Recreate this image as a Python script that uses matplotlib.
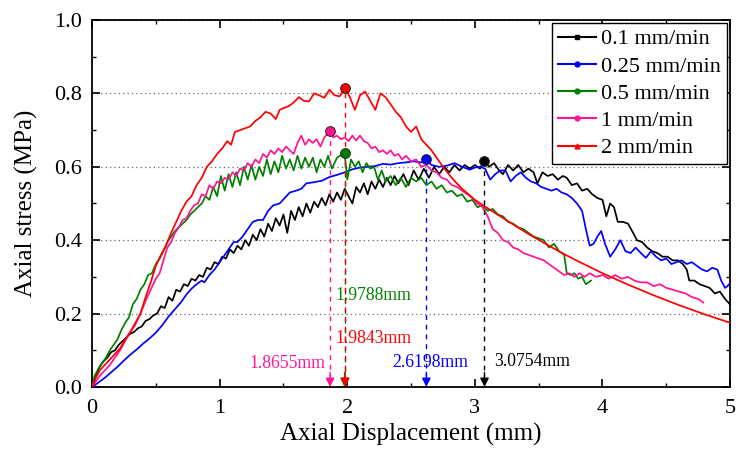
import matplotlib
matplotlib.use("Agg")
import matplotlib.pyplot as plt
from matplotlib.lines import Line2D

plt.rcParams["font.family"] = ["Liberation Serif", "DejaVu Serif"]
plt.rcParams["mathtext.fontset"] = "stix"

# ---- data: axial displacement (mm) vs axial stress (MPa) for each loading rate ----
x_01 = [0, 0.03, 0.06, 0.09, 0.12, 0.15, 0.18, 0.21, 0.24, 0.27, 0.30, 0.33, 0.36, 0.39, 0.42, 0.45,
        0.48, 0.51, 0.54, 0.57, 0.60, 0.63, 0.66, 0.69, 0.72, 0.75, 0.78, 0.81, 0.84, 0.87, 0.90, 0.93,
        0.96, 0.99, 1.02, 1.05, 1.08, 1.11, 1.14, 1.17, 1.20, 1.23, 1.26, 1.29, 1.32, 1.35, 1.38, 1.41,
        1.44, 1.47, 1.50, 1.53, 1.56, 1.59, 1.62, 1.65, 1.68, 1.71, 1.74, 1.77, 1.80, 1.83, 1.86, 1.89,
        1.92, 1.95, 1.98, 2.01, 2.04, 2.07, 2.10, 2.13, 2.16, 2.19, 2.22, 2.25, 2.28, 2.31, 2.34, 2.37,
        2.40, 2.44, 2.48, 2.52, 2.56, 2.60, 2.64, 2.68, 2.72, 2.76, 2.80, 2.84, 2.88, 2.92, 2.96, 3.00,
        3.04, 3.0754, 3.11, 3.15, 3.19, 3.22, 3.26, 3.30, 3.34, 3.38, 3.42, 3.46, 3.49, 3.53, 3.57, 3.61,
        3.65, 3.69, 3.72, 3.76, 3.80, 3.84, 3.88, 3.92, 3.96, 4.00, 4.03, 4.06, 4.09, 4.12, 4.16, 4.20,
        4.24, 4.27, 4.31, 4.35, 4.39, 4.43, 4.47, 4.51, 4.55, 4.59, 4.63, 4.66, 4.68, 4.72, 4.76, 4.80,
        4.84, 4.88, 4.92, 4.96, 5.00]
y_01 = [0, 0.030, 0.055, 0.070, 0.080, 0.095, 0.100, 0.115, 0.125, 0.135, 0.145, 0.150, 0.160, 0.165, 0.180, 0.185,
        0.195, 0.200, 0.220, 0.215, 0.245, 0.235, 0.265, 0.260, 0.280, 0.275, 0.295, 0.290, 0.305, 0.300, 0.325, 0.320,
        0.340, 0.335, 0.355, 0.350, 0.375, 0.365, 0.385, 0.375, 0.400, 0.385, 0.415, 0.400, 0.430, 0.410, 0.445, 0.425,
        0.460, 0.440, 0.470, 0.420, 0.480, 0.455, 0.490, 0.465, 0.500, 0.475, 0.505, 0.490, 0.515, 0.495, 0.525, 0.505,
        0.530, 0.510, 0.540, 0.520, 0.500, 0.545, 0.530, 0.555, 0.525, 0.560, 0.540, 0.565, 0.545, 0.570, 0.550, 0.575,
        0.555, 0.580, 0.550, 0.590, 0.565, 0.595, 0.570, 0.600, 0.580, 0.600, 0.585, 0.605, 0.590, 0.605, 0.595, 0.605,
        0.595, 0.616, 0.600, 0.610, 0.590, 0.580, 0.605, 0.590, 0.605, 0.585, 0.595, 0.585, 0.555, 0.585, 0.575, 0.580,
        0.565, 0.575, 0.570, 0.550, 0.555, 0.535, 0.540, 0.525, 0.515, 0.510, 0.465, 0.500, 0.490, 0.450, 0.450, 0.445,
        0.420, 0.400, 0.395, 0.380, 0.370, 0.365, 0.355, 0.355, 0.345, 0.345, 0.335, 0.320, 0.290, 0.290, 0.280, 0.275,
        0.270, 0.255, 0.260, 0.240, 0.225]

x_025 = [0, 0.05, 0.10, 0.15, 0.20, 0.25, 0.30, 0.35, 0.40, 0.45, 0.50, 0.55, 0.60, 0.65, 0.70, 0.74,
         0.78, 0.82, 0.86, 0.88, 0.92, 0.96, 1.00, 1.04, 1.08, 1.11, 1.14, 1.18, 1.22, 1.26, 1.30, 1.34,
         1.38, 1.42, 1.47, 1.51, 1.55, 1.60, 1.64, 1.68, 1.74, 1.80, 1.86, 1.92, 1.98, 2.04, 2.10, 2.16,
         2.22, 2.28, 2.34, 2.40, 2.46, 2.52, 2.58, 2.6198, 2.66, 2.72, 2.78, 2.84, 2.90, 2.96, 3.00, 3.04,
         3.08, 3.12, 3.16, 3.20, 3.24, 3.28, 3.32, 3.36, 3.40, 3.44, 3.48, 3.52, 3.56, 3.60, 3.64, 3.68,
         3.72, 3.76, 3.80, 3.84, 3.87, 3.90, 3.93, 3.96, 3.99, 4.02, 4.06, 4.10, 4.14, 4.18, 4.22, 4.26,
         4.30, 4.34, 4.38, 4.42, 4.46, 4.50, 4.54, 4.58, 4.62, 4.66, 4.70, 4.74, 4.78, 4.82, 4.86, 4.90,
         4.93, 4.96, 4.98, 5.00]
y_025 = [0, 0.012, 0.025, 0.040, 0.055, 0.072, 0.088, 0.102, 0.118, 0.132, 0.148, 0.168, 0.192, 0.212, 0.232, 0.252,
         0.268, 0.280, 0.290, 0.285, 0.305, 0.320, 0.340, 0.360, 0.380, 0.395, 0.395, 0.410, 0.430, 0.450, 0.455, 0.455,
         0.480, 0.495, 0.500, 0.515, 0.530, 0.535, 0.540, 0.555, 0.558, 0.562, 0.572, 0.578, 0.585, 0.593, 0.598, 0.600,
         0.602, 0.608, 0.606, 0.610, 0.612, 0.615, 0.612, 0.620, 0.605, 0.600, 0.603, 0.610, 0.600, 0.592, 0.598, 0.600,
         0.595, 0.565, 0.580, 0.590, 0.590, 0.560, 0.575, 0.585, 0.570, 0.560, 0.555, 0.545, 0.540, 0.535, 0.540, 0.530,
         0.525, 0.515, 0.500, 0.480, 0.430, 0.385, 0.390, 0.410, 0.425, 0.390, 0.355, 0.375, 0.400, 0.370, 0.365, 0.380,
         0.365, 0.352, 0.370, 0.355, 0.345, 0.350, 0.335, 0.340, 0.345, 0.335, 0.340, 0.330, 0.320, 0.315, 0.325, 0.320,
         0.290, 0.270, 0.275, 0.283]

x_05 = [0, 0.02, 0.05, 0.08, 0.11, 0.14, 0.17, 0.20, 0.23, 0.26, 0.29, 0.32, 0.35, 0.38, 0.41, 0.44,
        0.47, 0.50, 0.53, 0.56, 0.59, 0.62, 0.65, 0.68, 0.71, 0.74, 0.77, 0.80, 0.83, 0.86, 0.89, 0.92,
        0.95, 0.98, 1.01, 1.04, 1.07, 1.10, 1.13, 1.16, 1.19, 1.22, 1.25, 1.28, 1.31, 1.34, 1.37, 1.40,
        1.43, 1.46, 1.49, 1.52, 1.55, 1.58, 1.61, 1.64, 1.67, 1.70, 1.73, 1.76, 1.79, 1.82, 1.85, 1.88,
        1.92, 1.9788, 2.00, 2.03, 2.06, 2.09, 2.12, 2.15, 2.18, 2.21, 2.24, 2.27, 2.30, 2.34, 2.38, 2.42,
        2.46, 2.50, 2.54, 2.58, 2.62, 2.66, 2.70, 2.74, 2.78, 2.82, 2.86, 2.90, 2.94, 2.98, 3.02, 3.06,
        3.10, 3.14, 3.18, 3.22, 3.26, 3.30, 3.34, 3.38, 3.42, 3.46, 3.50, 3.54, 3.58, 3.62, 3.66, 3.70,
        3.72, 3.75, 3.78, 3.81, 3.84, 3.87, 3.91]
y_05 = [0, 0.030, 0.050, 0.065, 0.080, 0.100, 0.115, 0.130, 0.155, 0.175, 0.190, 0.225, 0.240, 0.265, 0.280, 0.305,
        0.310, 0.335, 0.350, 0.370, 0.395, 0.410, 0.425, 0.435, 0.445, 0.455, 0.470, 0.480, 0.490, 0.500, 0.520, 0.510,
        0.545, 0.520, 0.575, 0.535, 0.580, 0.545, 0.585, 0.550, 0.600, 0.565, 0.605, 0.565, 0.600, 0.575, 0.620, 0.580,
        0.615, 0.585, 0.630, 0.595, 0.620, 0.590, 0.630, 0.595, 0.625, 0.600, 0.625, 0.585, 0.620, 0.600, 0.630, 0.595,
        0.625, 0.638, 0.565, 0.620, 0.600, 0.615, 0.585, 0.610, 0.595, 0.600, 0.565, 0.590, 0.560, 0.575, 0.550, 0.570,
        0.545, 0.570, 0.560, 0.570, 0.550, 0.560, 0.540, 0.550, 0.530, 0.535, 0.520, 0.525, 0.505, 0.510, 0.490, 0.495,
        0.480, 0.485, 0.470, 0.465, 0.450, 0.445, 0.435, 0.430, 0.420, 0.410, 0.405, 0.400, 0.380, 0.390, 0.370, 0.360,
        0.310, 0.305, 0.310, 0.295, 0.300, 0.280, 0.290]

x_1 = [0, 0.03, 0.06, 0.10, 0.14, 0.18, 0.22, 0.26, 0.30, 0.34, 0.38, 0.42, 0.46, 0.50, 0.53, 0.56,
       0.59, 0.62, 0.65, 0.68, 0.71, 0.74, 0.77, 0.80, 0.83, 0.86, 0.89, 0.92, 0.95, 0.98, 1.01, 1.04,
       1.07, 1.10, 1.13, 1.16, 1.19, 1.22, 1.25, 1.28, 1.31, 1.34, 1.37, 1.40, 1.43, 1.46, 1.49, 1.52,
       1.55, 1.58, 1.61, 1.64, 1.67, 1.70, 1.73, 1.76, 1.79, 1.82, 1.8655, 1.89, 1.92, 1.95, 1.98, 2.01,
       2.04, 2.07, 2.10, 2.13, 2.16, 2.19, 2.22, 2.25, 2.28, 2.31, 2.34, 2.37, 2.40, 2.43, 2.46, 2.50,
       2.54, 2.58, 2.62, 2.66, 2.70, 2.74, 2.78, 2.82, 2.86, 2.90, 2.94, 2.98, 3.02, 3.06, 3.10, 3.14,
       3.18, 3.22, 3.26, 3.30, 3.34, 3.38, 3.42, 3.46, 3.50, 3.54, 3.58, 3.62, 3.66, 3.70, 3.74, 3.78,
       3.82, 3.86, 3.90, 3.95, 4.00, 4.05, 4.10, 4.15, 4.20, 4.25, 4.30, 4.35, 4.40, 4.45, 4.50, 4.55,
       4.60, 4.65, 4.70, 4.75, 4.79]
y_1 = [0, 0.015, 0.030, 0.045, 0.060, 0.080, 0.100, 0.125, 0.150, 0.170, 0.200, 0.235, 0.265, 0.295, 0.310, 0.345,
       0.380, 0.395, 0.420, 0.435, 0.455, 0.460, 0.480, 0.495, 0.500, 0.525, 0.520, 0.550, 0.540, 0.560, 0.555, 0.570,
       0.565, 0.585, 0.575, 0.595, 0.590, 0.610, 0.600, 0.620, 0.610, 0.635, 0.625, 0.645, 0.635, 0.650, 0.640, 0.655,
       0.645, 0.635, 0.665, 0.685, 0.660, 0.675, 0.665, 0.675, 0.655, 0.680, 0.698, 0.680, 0.685, 0.675, 0.680, 0.670,
       0.685, 0.672, 0.685, 0.670, 0.665, 0.650, 0.655, 0.640, 0.645, 0.635, 0.645, 0.630, 0.635, 0.620, 0.630, 0.615,
       0.620, 0.600, 0.605, 0.590, 0.585, 0.570, 0.565, 0.550, 0.545, 0.535, 0.525, 0.515, 0.500, 0.490, 0.465, 0.430,
       0.420, 0.400, 0.395, 0.380, 0.375, 0.365, 0.360, 0.355, 0.350, 0.345, 0.335, 0.325, 0.315, 0.305, 0.310, 0.300,
       0.310, 0.300, 0.310, 0.300, 0.305, 0.295, 0.305, 0.295, 0.300, 0.290, 0.285, 0.285, 0.275, 0.280, 0.270, 0.265,
       0.260, 0.255, 0.245, 0.240, 0.230]

x_2 = [0, 0.03, 0.06, 0.10, 0.14, 0.18, 0.22, 0.26, 0.30, 0.34, 0.38, 0.42, 0.46, 0.50, 0.54, 0.58,
       0.62, 0.66, 0.70, 0.74, 0.78, 0.82, 0.86, 0.90, 0.94, 0.98, 1.02, 1.06, 1.09, 1.12, 1.16, 1.20,
       1.24, 1.28, 1.32, 1.36, 1.40, 1.44, 1.47, 1.50, 1.54, 1.58, 1.62, 1.66, 1.70, 1.74, 1.78, 1.82,
       1.86, 1.90, 1.94, 1.9843, 2.02, 2.06, 2.10, 2.14, 2.18, 2.22, 2.26, 2.30, 2.34, 2.38, 2.42, 2.46,
       2.50, 2.54, 2.58, 2.62, 2.66, 2.70, 2.75, 2.80, 2.85, 2.90, 2.95, 3.00, 3.10, 3.20, 3.30, 3.40,
       3.50, 3.60, 3.70, 3.80, 3.90, 4.00, 4.20, 4.40, 4.60, 4.80, 5.00]
y_2 = [0, 0.025, 0.045, 0.060, 0.075, 0.090, 0.105, 0.130, 0.150, 0.175, 0.200, 0.245, 0.285, 0.330, 0.360, 0.385,
       0.420, 0.450, 0.480, 0.505, 0.520, 0.550, 0.570, 0.600, 0.615, 0.635, 0.650, 0.670, 0.660, 0.695, 0.700, 0.705,
       0.710, 0.725, 0.735, 0.750, 0.745, 0.730, 0.755, 0.760, 0.765, 0.775, 0.790, 0.780, 0.778, 0.800, 0.795, 0.788,
       0.810, 0.795, 0.792, 0.815, 0.790, 0.755, 0.795, 0.805, 0.780, 0.755, 0.800, 0.790, 0.770, 0.750, 0.735, 0.710,
       0.695, 0.710, 0.675, 0.660, 0.645, 0.625, 0.600, 0.578, 0.558, 0.540, 0.525, 0.510, 0.487, 0.465, 0.443, 0.421,
       0.401, 0.381, 0.362, 0.344, 0.327, 0.310, 0.279, 0.250, 0.223, 0.198, 0.175]

rates = ["0.1 mm/min", "0.25 mm/min", "0.5 mm/min", "1 mm/min", "2 mm/min"]
colors = ["#000000", "#0000FF", "#008000", "#FF1493", "#FF0000"]
legend_markers = ["s", "o", "o", "o", "^"]

# peak points (displacement at peak stress, peak stress)
peak_x = [3.0754, 2.6198, 1.9788, 1.8655, 1.9843]
peak_y = [0.616, 0.620, 0.638, 0.698, 0.815]
peak_labels = ["3.0754mm", "2.6198mm", "1.9788mm", "1.8655mm", "1.9843mm"]

curves = [(x_01, y_01), (x_025, y_025), (x_05, y_05), (x_1, y_1), (x_2, y_2)]

fig = plt.figure(figsize=(7.36, 4.55), dpi=100)
ax = fig.add_axes([0.125, 0.1495, 0.867, 0.8065])

for (xs, ys), c in zip(curves, colors):
    ax.plot(xs, ys, color=c, lw=1.25, zorder=3)

# dashed drop lines from each peak to the axis, with arrow heads
dash_offsets = [0, 0, 0, 0, 3.5]
for px, py, c, off in zip(peak_x, peak_y, colors, dash_offsets):
    ax.plot([px, px], [py, 0.03], color=c, lw=1.0, linestyle=(off, (3.5, 3.5)), zorder=4)
    ax.annotate("", xy=(px, 0.0), xytext=(px, 0.04),
                arrowprops=dict(arrowstyle="-|>", color=c, lw=1.0, mutation_scale=13,
                                shrinkA=0, shrinkB=0), zorder=5)
    ax.plot(px, py, marker="o", ms=7, mfc=c, mec="#222222", mew=0.7, zorder=6, clip_on=False)

# peak displacement labels
label_pos = [(3.15, 0.069, "left"), (2.65, 0.066, "center"), (1.905, 0.25, "left"),
             (1.83, 0.065, "right"), (1.905, 0.131, "left")]
for (lx, ly, ha), txt, c in zip(label_pos, peak_labels, colors):
    ax.text(lx, ly, txt, color=c, fontsize=12.7, ha=ha, va="center", zorder=7)

ax.set_xlim(0, 5)
ax.set_ylim(0, 1.0)
ax.set_xticks([0, 1, 2, 3, 4, 5])
ax.set_xticks([0.5, 1.5, 2.5, 3.5, 4.5], minor=True)
ax.set_yticks([0, 0.2, 0.4, 0.6, 0.8, 1.0])
ax.set_yticks([0.1, 0.3, 0.5, 0.7, 0.9], minor=True)
ax.set_yticklabels(["0.0", "0.2", "0.4", "0.6", "0.8", "1.0"])
ax.tick_params(which="major", direction="in", length=6, width=1.2, top=True, right=True, labelsize=16)
ax.tick_params(axis="x", which="major", pad=9)
ax.tick_params(axis="y", which="major", pad=7)
ax.tick_params(which="minor", direction="in", length=3, width=1.0, top=True, right=True)
for s in ax.spines.values():
    s.set_linewidth(1.3)
ax.yaxis.grid(True, which="major", linestyle=(0, (1, 2.5)), color="#666666", lw=0.9)
ax.set_axisbelow(True)

ax.set_xlabel("Axial Displacement (mm)", fontsize=18, labelpad=3)
ax.set_ylabel("Axial stress (MPa)", fontsize=18, labelpad=12)

handles = [Line2D([0], [0], color=c, lw=1.5, marker=m, ms=3.5) for c, m in zip(colors, legend_markers)]
leg = ax.legend(handles, rates, loc="upper right", fontsize=16, frameon=True, fancybox=False,
                edgecolor="#000000", framealpha=1, handlelength=1.7, handletextpad=0.25,
                labelspacing=0.3, borderpad=0.25, borderaxespad=0.15)
leg.get_frame().set_linewidth(1.0)
leg.set_zorder(10)

fig.savefig("out.png", dpi=100)
